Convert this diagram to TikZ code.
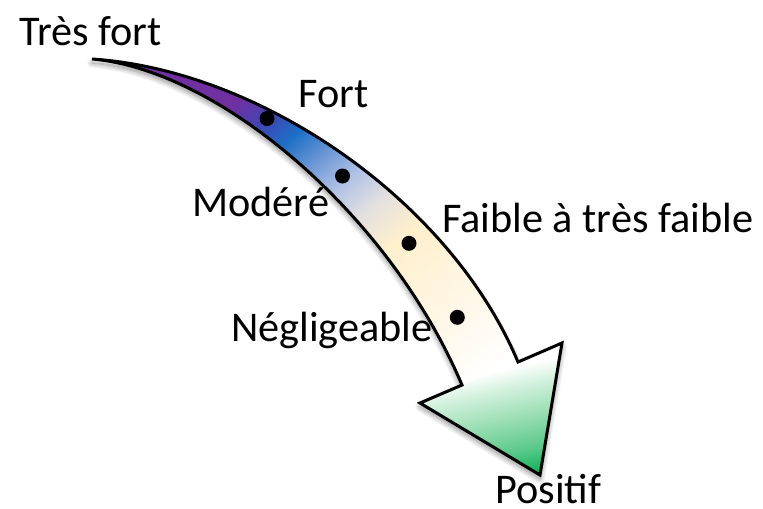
\documentclass[tikz,border=0pt]{standalone}
\usepackage{fontspec}
\setmainfont{Carlito}
\usetikzlibrary{shadows.blur}

\definecolor{cPurple}{HTML}{7030A0}
\definecolor{cMix}{HTML}{4046B4}
\definecolor{cBlue}{HTML}{1C6FC6}
\definecolor{cSky}{HTML}{6E98D6}
\definecolor{cLav}{HTML}{B0C2E6}
\definecolor{cGrey}{HTML}{E4E0E0}
\definecolor{cCream}{HTML}{FFF0CC}
\definecolor{cIvory}{HTML}{FFF6E4}
\definecolor{cMint}{HTML}{D6F2E0}
\definecolor{cSea}{HTML}{A0E0B8}
\definecolor{cJade}{HTML}{5CC98A}
\definecolor{cGreen}{HTML}{00B050}

% colour ramp along the shaft: purple -> blue -> cream -> white
\pgfdeclarehorizontalshading{shaftgrad}{100bp}{%
  color(0bp)=(cPurple); color(36.8bp)=(cPurple); color(39.2bp)=(cMix);
  color(41.3bp)=(cBlue); color(43.8bp)=(cSky); color(46.2bp)=(cLav);
  color(48.8bp)=(cGrey); color(51.9bp)=(cCream); color(57.6bp)=(cIvory);
  color(63.3bp)=(white); color(100bp)=(white)}
% colour ramp in the head: white -> green
\pgfdeclarehorizontalshading{headgrad}{100bp}{%
  color(0bp)=(white); color(43.8bp)=(white); color(46.8bp)=(cMint);
  color(51.8bp)=(cSea); color(57.7bp)=(cJade); color(62.7bp)=(cGreen);
  color(100bp)=(cGreen)}

% outline of the curved arrow
\def\arrowoutline{(92,59) .. controls (260,70) and (450,200) .. (518,362)
  -- (562,343) -- (540,475) -- (420,403) -- (462,385)
  .. controls (390,215) and (220,70) .. (92,59) -- cycle}
\def\headoutline{(420,403) -- (562,343) -- (540,475) -- cycle}

\tikzset{
  lbl/.style={anchor=base west, inner sep=0pt, font=\fontsize{31.7pt}{38pt}\selectfont},
  dot/.style={circle, fill=black, inner sep=0pt, minimum size=11.25pt},
  outline/.style={draw=black, line width=2.25pt, line join=miter, miter limit=4}
}

\begin{document}
\begin{tikzpicture}[x=0.75pt, y=-0.75pt]
\useasboundingbox (0,0) rectangle (763,508);

% soft drop shadow under the arrow
\path[fill=white, blur shadow={shadow xshift=0pt, shadow yshift=-3pt,
  shadow blur radius=4pt, shadow blur steps=12, shadow opacity=45}] \arrowoutline;

% shaded body
\begin{scope}
  \clip \arrowoutline;
  \shade[shading=shaftgrad, shading angle=-50] (-23,-84) rectangle (677,616);
\end{scope}
\begin{scope}
  \clip \headoutline;
  \shade[shading=headgrad, shading angle=-77] (340,260) rectangle (640,560);
\end{scope}

\path[outline] \arrowoutline;

% level markers
\node[dot] (d1) at (267,118.5) {};
\node[dot] (d2) at (342.5,176) {};
\node[dot] (d3) at (409,243.3) {};
\node[dot] (d4) at (457.3,317.3) {};

% labels
\node[lbl] (tf) at (19,45) {Très fort};
\node[lbl] (f)  at (298,107) {Fort};
\node[lbl] (m)  at (192,216) {Modéré};
\node[lbl] (fa) at (442,232) {Faible à très faible};
\node[lbl] (n)  at (231,341) {Négligeable};
\node[lbl] (p)  at (495,503) {Positif};
\end{tikzpicture}
\end{document}
